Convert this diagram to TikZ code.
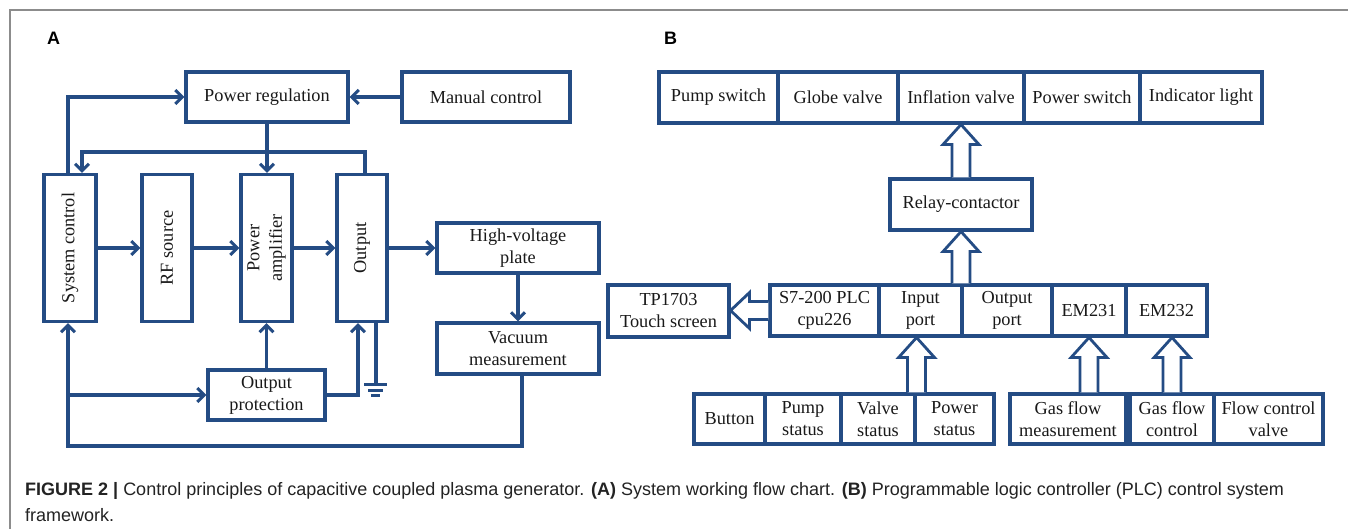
\documentclass[tikz,border=0pt]{standalone}
\usepackage{fontspec}
\setmainfont{Liberation Serif}
\newfontfamily\sansf{Liberation Sans}
\usetikzlibrary{arrows.meta,calc}
\definecolor{bblue}{RGB}{36,76,132}
\definecolor{txt}{RGB}{25,25,25}
\definecolor{capc}{RGB}{35,35,35}
\definecolor{framec}{RGB}{140,140,140}
\tikzset{
 blk/.style={draw=bblue, line width=3.1pt, text=txt, font=\fontsize{18.3}{22}\selectfont, align=center, inner sep=0pt},
 sz/.style 2 args={minimum width=#1pt, minimum height=#2pt},
 vtxt/.style={text=txt, font=\fontsize{18.3}{22.5}\selectfont, align=center, inner sep=0pt, rotate=90},
 arr/.style={draw=bblue, line width=3.1pt, -{Straight Barb[length=7pt,width=14pt]}},
 ln/.style={draw=bblue, line width=3.1pt},
 harr/.style={draw=bblue, line width=2.8pt, fill=white, line join=miter},
 lbl/.style={font=\sansf\bfseries\fontsize{18}{20}\selectfont, text=black, anchor=base west, inner sep=0pt},
 captxt/.style={font=\sansf\fontsize{18}{20}\selectfont, text=capc, anchor=base west, inner sep=0pt},
}
\newcommand\hup[2]{\draw[harr] let \p1=(#1), \p2=(#2) in (\x1-9pt,\y1) -- (\x1-9pt,\y2-20pt) -- (\x1-18pt,\y2-20pt) -- (\x1,\y2) -- (\x1+18pt,\y2-20pt) -- (\x1+9pt,\y2-20pt) -- (\x1+9pt,\y1);}
\newcommand\hleft[2]{\draw[harr] let \p1=(#1), \p2=(#2) in (\x1,\y1+9pt) -- (\x2+19pt,\y1+9pt) -- (\x2+19pt,\y1+18pt) -- (\x2,\y1) -- (\x2+19pt,\y1-18pt) -- (\x2+19pt,\y1-9pt) -- (\x1,\y1-9pt);}
\begin{document}
\begin{tikzpicture}[x=1pt,y=-1pt]
\useasboundingbox (0,0) rectangle (1348,529);
\fill[white] (0,0) rectangle (1348,529);
\draw[framec, line width=1.5pt] (10,529) -- (10,10) -- (1348,10);
% labels
\node[lbl] (labA) at (47,45) {A};
\node[lbl] (labB) at (664,45) {B};
% ---------- Part A ----------
\node[blk, sz={162}{50}] (pr) at (267,97) {Power regulation};
\node[blk, sz={168}{50}] (mc) at (486,97) {Manual control};
\node[blk, sz={52}{147}] (sc) at (70,248) {};
\node[vtxt] (scT) at (sc) {System control};
\node[blk, sz={50}{147}] (rf) at (167,248) {};
\node[vtxt] (rfT) at (rf) {RF source};
\node[blk, sz={51}{147}] (pa) at (266.5,248) {};
\node[vtxt] (paT) at (pa) {Power\\amplifier};
\node[blk, sz={50}{147}] (out) at (362,248) {};
\node[vtxt] (outT) at (out) {Output};
\node[blk, sz={162}{50}] (hv) at (518,248) {High-voltage\\plate};
\node[blk, sz={162}{51}] (vm) at (518,348.5) {Vacuum\\measurement};
\node[blk, sz={117}{50}] (op) at (266.5,395) {Output\\protection};
\coordinate (fb) at (82,152);
\coordinate (bot) at (68,446);
\draw[arr] (mc.west) -- (pr.east);
\draw[arr] ([xshift=-2pt]sc.north) |- (pr.west);
\draw[arr] (pr.south) -- (pr.south |- pa.north);
\draw[arr] ([xshift=3pt]out.north) |- (fb) -- ([xshift=12pt]sc.north);
\draw[arr] (sc.east) -- (rf.west);
\draw[arr] (rf.east) -- (pa.west);
\draw[arr] (pa.east) -- (out.west);
\draw[arr] (out.east) -- (hv.west);
\draw[arr] (hv.south) -- (vm.north);
\draw[arr] ([xshift=4pt]vm.south) |- (bot) -- ([xshift=-2pt]sc.south);
\draw[arr] (bot |- op.west) -- (op.west);
\draw[arr] (op.north) -- (op.north |- pa.south);
\draw[arr] (op.east) -| ([xshift=-4pt]out.south);
\draw[ln] ([xshift=14pt]out.south) -- ++(0,61) coordinate (gnd);
\draw[ln] ([xshift=-12pt]gnd) -- ([xshift=11pt]gnd);
\draw[ln] ([xshift=-8pt,yshift=-6pt]gnd) -- ([xshift=7pt,yshift=-6pt]gnd);
\draw[ln] ([xshift=-5pt,yshift=-11pt]gnd) -- ([xshift=4pt,yshift=-11pt]gnd);
% ---------- Part B ----------
\node[blk, sz={119}{51}] (ps) at (718.5,97.5) {Pump switch};
\node[blk, sz={120}{51}] (gv) at (838,97.5) {Globe valve};
\node[blk, sz={126}{51}] (iv) at (961,97.5) {Inflation valve};
\node[blk, sz={116}{51}] (pw) at (1082,97.5) {Power switch};
\node[blk, sz={122}{51}] (il) at (1201,97.5) {Indicator light};
\node[blk, sz={142}{51}] (rc) at (961,204.5) {Relay-contactor};
\node[blk, sz={109}{51}] (plc) at (824.5,310.5) {S7-200 PLC\\cpu226};
\node[blk, sz={83}{51}] (ip) at (920.5,310.5) {Input\\port};
\node[blk, sz={90}{51}] (opp) at (1007,310.5) {Output\\port};
\node[blk, sz={74}{51}] (em1) at (1089,310.5) {EM231};
\node[blk, sz={81}{51}] (em2) at (1166.5,310.5) {EM232};
\node[blk, sz={121}{52}] (ts) at (668.5,311) {TP1703\\Touch screen};
\node[blk, sz={71}{50}] (btn) at (729.5,419) {Button};
\node[blk, sz={76}{50}] (pst) at (803,419) {Pump\\status};
\node[blk, sz={74}{50}] (vst) at (878,419) {Valve\\status};
\node[blk, sz={79}{50}] (pwst) at (954.5,419) {Power\\status};
\node[blk, sz={116}{50}] (gfm) at (1068,419) {Gas flow\\measurement};
\node[blk, sz={84}{50}] (gfc) at (1172,419) {Gas flow\\control};
\node[blk, sz={109}{50}] (fcv) at (1268.5,419) {Flow control\\valve};
\coordinate (a1) at (rc.south |- ip.north);
\coordinate (a2) at (vst.north east);
\coordinate (a2t) at (vst.north east |- ip.south);
\coordinate (a3) at (em1.south |- gfm.north);
\coordinate (a4t) at (gfc.north |- em2.south);
\hup{rc.north}{iv.south}
\hup{a1}{rc.south}
\hup{a2}{a2t}
\hup{a3}{em1.south}
\hup{gfc.north}{a4t}
\hleft{plc.west}{ts.east}
% ---------- caption ----------
\node[captxt] (cap1) at (25,495) {\textbf{FIGURE 2 |} Control principles of capacitive coupled plasma generator. \textbf{(A)} System working flow chart. \textbf{(B)} Programmable logic controller (PLC) control system};
\node[captxt] (cap2) at (25,521) {framework.};
\end{tikzpicture}
\end{document}
